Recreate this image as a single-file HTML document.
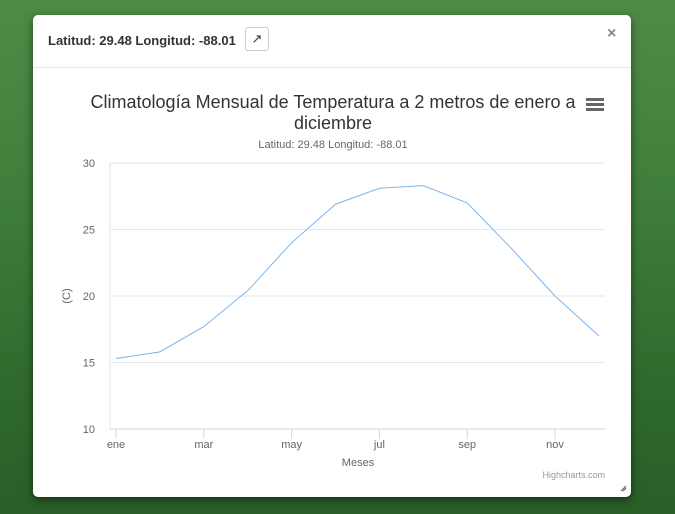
<!DOCTYPE html>
<html><head><meta charset="utf-8"><style>
body{margin:0;width:675px;height:514px;overflow:hidden;position:relative;font-family:"Liberation Sans",sans-serif;
background:linear-gradient(180deg,#4f8c46 0%,#3f7d3a 40%,#2f6a2c 75%,#2a5e28 100%);}
.modal{position:absolute;left:33px;top:15px;width:598px;height:482px;background:#fff;border-radius:5px;box-shadow:0 3px 9px rgba(0,0,0,.5);}
.hdr{position:absolute;left:0;top:0;width:598px;height:52px;border-bottom:1px solid #e5e5e5;}
.ttl{position:absolute;left:15px;top:18px;font-size:13px;font-weight:bold;color:#333;}
.btn{position:absolute;left:212px;top:12px;width:22px;height:22px;border:1px solid #ccc;border-radius:3px;font-size:13px;text-align:center;line-height:22px;color:#333;}
.close{position:absolute;left:574px;top:10px;font-size:16px;font-weight:bold;color:#888;}
</style></head><body>
<div class="modal">
 <div class="hdr">
  <div class="ttl">Latitud: 29.48 Longitud: -88.01</div>
  <div class="btn">↗</div>
  <div class="close">×</div>
 </div>
</div>
<svg id="chart" width="675" height="514" style="position:absolute;left:0;top:0">
 <text x="333" y="108" text-anchor="middle" font-size="18" fill="#333">Climatología Mensual de Temperatura a 2 metros de enero a</text>
 <text x="333" y="129" text-anchor="middle" font-size="18" fill="#333">diciembre</text>
 <text x="333" y="148" text-anchor="middle" font-size="11" fill="#666">Latitud: 29.48 Longitud: -88.01</text>
 <g><rect x="586" y="98" width="18" height="3" fill="#666"/><rect x="586" y="103" width="18" height="3" fill="#666"/><rect x="586" y="108" width="18" height="3" fill="#666"/></g>
 <text x="70" y="296" transform="rotate(-90 70 296)" text-anchor="middle" font-size="11" fill="#666">(C)</text>
 <text x="358" y="466" text-anchor="middle" font-size="11" fill="#666">Meses</text>
 <text x="605" y="478" text-anchor="end" font-size="9" fill="#999">Highcharts.com</text>
 <path d="M621 491 L626 486 M623 491 L626 488" stroke="#555"/>
</svg>
<script>
const categories=["ene","feb","mar","abr","may","jun","jul","ago","sep","oct","nov","dic"];
const temps=[15.3,15.8,17.7,20.4,24.0,26.9,28.1,28.3,27.0,23.6,20.0,17.0];
const yTicks=[10,15,20,25,30];
const NS="http://www.w3.org/2000/svg";
const svg=document.getElementById('chart');
const L=110,R=605,T=163,B=429;
const x=i=>116+i*43.9;
const y=v=>B-(v-10)/(30-10)*(B-T);
function mk(t,a){const e=document.createElementNS(NS,t);for(const k in a)e.setAttribute(k,a[k]);svg.appendChild(e);return e;}
yTicks.forEach(v=>{
 const g=mk('line',{x1:L,x2:R,y1:y(v),y2:y(v),stroke:v===10?'#ccd6eb':'#e6e6e6'});
 
 
 const t=mk('text',{x:95,y:y(v)+4,'text-anchor':'end','font-size':11,fill:'#666'});t.textContent=v;
 
 
});
const ax=mk('line',{x1:L,x2:L,y1:T,y2:B,stroke:'#e6e6e6'});


categories.forEach((c,i)=>{
 if(i%2)return;
 const tk=mk('line',{x1:x(i),x2:x(i),y1:B,y2:B+10,stroke:'#ccd6eb'});
 
 
 const t=mk('text',{x:x(i),y:B+19,'text-anchor':'middle','font-size':11,fill:'#666'});t.textContent=c;
 
 
});
const p=mk('path',{d:temps.map((v,i)=>(i?'L':'M')+x(i)+' '+y(v)).join(' '),fill:'none',stroke:'#7cb5ec','stroke-width':1});


</script>
</body></html>
